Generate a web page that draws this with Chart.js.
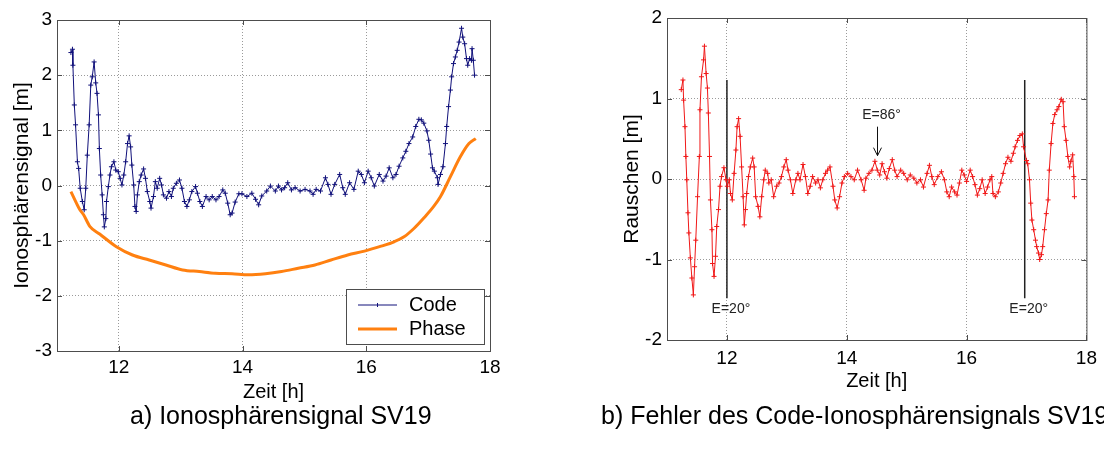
<!DOCTYPE html>
<html>
<head>
<meta charset="utf-8">
<script src="https://cdn.jsdelivr.net/npm/chart.js@4/dist/chart.umd.min.js"></script>
<style>
  body { margin: 0; background: #fff; width: 1104px; height: 455px; overflow: hidden; position: relative; font-family: "Liberation Sans", Arial, sans-serif; }
  #grafico1 { position: absolute; left: 0; top: 0; }
  #grafico2 { position: absolute; left: 610px; top: 0; }
  .caption { position: absolute; top: 400px; font-size: 25px; line-height: 30px; white-space: nowrap; color: #000; }
</style>
</head>
<body>
<canvas id="grafico1" width="520" height="410"></canvas>
<canvas id="grafico2" width="494" height="410"></canvas>
<div class="caption" style="left:130px">a) Ionosphärensignal SV19</div>
<div class="caption" style="left:601px">b) Fehler des Code-Ionosphärensignals SV19</div>
<script>
// Zeit in Stunden, Werte in Metern
const codeTime = [11.225, 11.25, 11.257, 11.28, 11.30, 11.33, 11.35, 11.375, 11.41, 11.44, 11.465, 11.49, 11.52, 11.546, 11.57, 11.60, 11.626, 11.647, 11.67, 11.685,
  11.706, 11.73, 11.75, 11.765, 11.79, 11.80, 11.83, 11.856, 11.88, 11.92, 11.95, 11.99, 12.02, 12.05, 12.08, 12.11, 12.14, 12.166, 12.19, 12.21,
  12.24, 12.26, 12.28, 12.30, 12.33, 12.36, 12.40, 12.43, 12.46, 12.50, 12.52, 12.56, 12.59, 12.62, 12.66, 12.69, 12.72, 12.77, 12.81, 12.85,
  12.88, 12.93, 12.98, 13.02, 13.06, 13.10, 13.14, 13.18, 13.24, 13.27, 13.31, 13.35, 13.41, 13.46, 13.51, 13.57, 13.62, 13.68, 13.72, 13.76,
  13.80, 13.83, 13.88, 13.94, 13.99, 14.07, 14.15, 14.21, 14.26, 14.31, 14.39, 14.45, 14.53, 14.58, 14.63, 14.68, 14.73, 14.79, 14.85, 14.93,
  15.01, 15.09, 15.14, 15.19, 15.26, 15.34, 15.38, 15.43, 15.49, 15.57, 15.62, 15.66, 15.73, 15.80, 15.87, 15.92, 15.97, 16.03, 16.08, 16.13,
  16.21, 16.27, 16.32, 16.37, 16.43, 16.48, 16.53, 16.59, 16.64, 16.69, 16.75, 16.80, 16.85, 16.89, 16.93, 16.98, 17.01, 17.04, 17.07, 17.10,
  17.15, 17.16, 17.20, 17.24, 17.28, 17.30, 17.33, 17.36, 17.38, 17.41, 17.44, 17.47, 17.50, 17.54, 17.56, 17.59, 17.62, 17.64, 17.67, 17.70,
  17.71, 17.73, 17.75];
const codeIono = [2.41, 2.47, 2.18, 1.46, 1.10, 0.43, 0.31, -0.05, -0.29, -0.44, -0.05, 0.55, 1.10, 1.82, 1.97, 2.24, 1.86, 1.67, 1.28, 0.67,
  0.19, -0.17, -0.53, -0.75, -0.60, -0.29, -0.02, 0.19, 0.34, 0.43, 0.28, 0.25, 0.13, 0.01, 0.19, 0.43, 0.76, 0.90, 0.70, 0.37,
  0.01, -0.38, -0.47, -0.17, 0.07, 0.19, 0.30, 0.13, -0.11, -0.29, -0.41, -0.20, 0.07, -0.05, 0.13, 0.01, -0.17, -0.23, -0.11, -0.20,
  -0.05, 0.04, 0.10, -0.05, -0.29, -0.38, -0.26, -0.11, -0.02, -0.14, -0.29, -0.38, -0.20, -0.26, -0.20, -0.26, -0.20, -0.08, -0.14, -0.32,
  -0.53, -0.50, -0.30, -0.15, -0.15, -0.20, -0.14, -0.25, -0.35, -0.19, -0.10, -0.01, -0.10, -0.01, -0.08, -0.04, 0.05, -0.08, -0.04, -0.10,
  -0.07, -0.10, -0.16, -0.07, -0.10, 0.14, 0.02, -0.16, 0.02, 0.20, -0.04, -0.16, 0.05, -0.07, 0.26, 0.20, 0.05, 0.26, 0.14, -0.01,
  0.20, 0.08, 0.17, 0.32, 0.14, 0.20, 0.35, 0.50, 0.62, 0.76, 0.88, 1.07, 1.20, 1.19, 1.13, 0.99, 0.82, 0.57, 0.32, 0.26,
  0.14, 0.02, 0.20, 0.34, 0.76, 1.07, 1.43, 1.73, 1.97, 2.21, 2.33, 2.45, 2.60, 2.85, 2.69, 2.57, 2.30, 2.18, 2.30, 2.27,
  2.48, 2.27, 2.00];

const phaseTime = [11.225, 11.37, 11.43, 11.53, 11.69, 11.96, 12.22, 12.49, 12.76, 13.03, 13.30, 13.56, 13.83, 14.10, 14.37, 14.63,
  14.90, 15.17, 15.43, 15.70, 15.97, 16.24, 16.45, 16.61, 16.77, 16.93, 17.09, 17.20, 17.36, 17.52, 17.66, 17.77];
const phaseIono = [-0.11, -0.44, -0.53, -0.74, -0.88, -1.11, -1.26, -1.35, -1.44, -1.53, -1.56, -1.59, -1.60, -1.62, -1.60, -1.56,
  -1.50, -1.44, -1.35, -1.26, -1.19, -1.10, -1.02, -0.93, -0.78, -0.59, -0.38, -0.20, 0.16, 0.52, 0.76, 0.85];

const noiseTime = [11.238, 11.266, 11.277, 11.30, 11.315, 11.33, 11.35, 11.365, 11.39, 11.415, 11.44, 11.46, 11.48, 11.51, 11.54, 11.55, 11.575, 11.61, 11.625, 11.653,
  11.675, 11.69, 11.71, 11.725, 11.75, 11.76, 11.785, 11.81, 11.83, 11.86, 11.885, 11.91, 11.95, 11.985, 12.007, 12.04, 12.06, 12.09, 12.12, 12.15,
  12.17, 12.195, 12.22, 12.245, 12.27, 12.29, 12.31, 12.33, 12.36, 12.39, 12.43, 12.455, 12.48, 12.52, 12.55, 12.58, 12.615, 12.64, 12.68, 12.70,
  12.74, 12.78, 12.83, 12.87, 12.91, 12.95, 12.99, 13.02, 13.06, 13.10, 13.15, 13.185, 13.22, 13.27, 13.31, 13.35, 13.39, 13.43, 13.48, 13.52,
  13.56, 13.60, 13.645, 13.68, 13.72, 13.77, 13.80, 13.84, 13.88, 13.92, 13.96, 14.015, 14.07, 14.125, 14.18, 14.24, 14.29, 14.32, 14.37, 14.42,
  14.47, 14.51, 14.55, 14.59, 14.63, 14.67, 14.71, 14.76, 14.80, 14.84, 14.90, 14.95, 15.01, 15.06, 15.12, 15.17, 15.23, 15.28, 15.34, 15.38,
  15.42, 15.46, 15.52, 15.58, 15.63, 15.67, 15.71, 15.75, 15.80, 15.84, 15.88, 15.92, 15.96, 16.00, 16.06, 16.10, 16.14, 16.18, 16.22, 16.26,
  16.31, 16.35, 16.39, 16.42, 16.44, 16.48, 16.53, 16.57, 16.61, 16.65, 16.69, 16.74, 16.78, 16.81, 16.85, 16.89, 16.93, 16.95, 17.00, 17.02,
  17.05, 17.07, 17.09, 17.12, 17.15, 17.17, 17.20, 17.22, 17.25, 17.27, 17.30, 17.33, 17.36, 17.38, 17.41, 17.44, 17.47, 17.51, 17.54, 17.58,
  17.61, 17.63, 17.66, 17.69, 17.72, 17.74, 17.77, 17.79, 17.80];
const noiseVal = [1.11, 1.23, 0.98, 0.65, 0.28, -0.01, -0.42, -0.67, -0.98, -1.23, -1.44, -1.09, -0.76, -0.22, 0.28, 0.86, 1.27, 1.48, 1.65, 1.31,
  1.13, 0.82, 0.28, -0.26, -0.63, -1.05, -1.21, -0.96, -0.59, -0.38, -0.09, 0.03, 0.14, -0.01, -0.09, -0.01, -0.18, -0.26, 0.07, 0.36,
  0.65, 0.75, 0.53, 0.15, -0.22, -0.57, -0.38, -0.18, 0.03, 0.15, 0.26, 0.15, -0.22, -0.34, -0.47, -0.22, -0.01, 0.11, 0.07, -0.05,
  -0.01, -0.22, -0.09, -0.05, 0.03, 0.15, 0.24, 0.11, -0.01, -0.18, -0.01, 0.07, -0.01, 0.18, 0.03, -0.18, -0.09, 0.03, -0.05, -0.01,
  -0.11, -0.01, 0.07, 0.11, 0.15, -0.09, -0.26, -0.36, -0.22, -0.05, 0.03, 0.07, 0.03, -0.01, 0.11, -0.01, -0.14, 0.01, 0.07, 0.11,
  0.22, 0.11, 0.05, 0.19, 0.09, 0.01, 0.13, 0.24, 0.11, 0.03, 0.11, 0.07, -0.01, 0.05, 0.01, -0.05, -0.01, -0.10, 0.07, 0.17,
  0.03, -0.07, 0.03, 0.09, -0.01, -0.16, -0.22, -0.10, -0.16, -0.20, -0.05, 0.11, 0.05, -0.03, 0.11, 0.03, -0.07, -0.20, -0.12, -0.01,
  -0.18, -0.10, -0.01, 0.03, -0.18, -0.22, -0.16, -0.05, 0.07, 0.19, 0.27, 0.22, 0.32, 0.40, 0.48, 0.54, 0.56, 0.40, 0.23, 0.19,
  -0.01, -0.30, -0.51, -0.63, -0.76, -0.84, -0.92, -1.00, -0.94, -0.84, -0.63, -0.43, -0.26, 0.11, 0.44, 0.69, 0.80, 0.86, 0.90, 0.99,
  0.96, 0.65, 0.48, 0.28, 0.15, 0.22, 0.30, 0.03, -0.22];

// Elevationsmarken (E=20°) und Pfeil bei E=86°
const elevTime = [12, 16.97];
const elevLabels = ['E=20°', 'E=20°'];
const elevTop = 1.23;
const elevBottom = -1.48;
const zenithTime = 14.5;
const zenithLabel = 'E=86°';
const zenithFrom = 0.65;
const zenithTo = 0.29;

const xTicks = [12, 14, 16, 18];
const yTicksLeft = [-3, -2, -1, 0, 1, 2, 3];
const yTicksRight = [-2, -1, 0, 1, 2];
const legendLabels = ['Code', 'Phase'];

const FONT = '"Liberation Sans", Arial, sans-serif';
Chart.defaults.font.family = FONT;
Chart.defaults.color = '#000';

function toPoints(xs, ys) {
    return xs.map((x, i) => ({ x: x, y: ys[i] }));
}

// Rahmen mit Ticks nach innen (wie MATLAB)
const framePlugin = {
    id: 'frame',
    afterDraw(chart) {
        const { ctx, chartArea: a, scales } = chart;
        ctx.save();
        ctx.strokeStyle = '#4d4d4d';
        ctx.lineWidth = 1;
        ctx.strokeRect(a.left + 0.5, a.top + 0.5, a.right - a.left, a.bottom - a.top);
        ctx.beginPath();
        scales.x.ticks.forEach(t => {
            const px = Math.round(scales.x.getPixelForValue(t.value)) + 0.5;
            ctx.moveTo(px, a.bottom); ctx.lineTo(px, a.bottom - 5);
            ctx.moveTo(px, a.top); ctx.lineTo(px, a.top + 5);
        });
        scales.y.ticks.forEach(t => {
            const py = Math.round(scales.y.getPixelForValue(t.value)) + 0.5;
            ctx.moveTo(a.left, py); ctx.lineTo(a.left + 5, py);
            ctx.moveTo(a.right, py); ctx.lineTo(a.right - 5, py);
        });
        ctx.stroke();
        ctx.restore();
    }
};

const legendPlugin = {
    id: 'boxLegend',
    afterDraw(chart) {
        const { ctx, chartArea: a } = chart;
        const w = 138, h = 55;
        const left = a.right - 6 - w, top = a.bottom - 7 - h;
        ctx.save();
        ctx.fillStyle = '#fff';
        ctx.fillRect(left, top, w, h);
        ctx.strokeStyle = '#4d4d4d';
        ctx.lineWidth = 1;
        ctx.strokeRect(left + 0.5, top + 0.5, w, h);
        ctx.font = '20px ' + FONT;
        ctx.textBaseline = 'middle';
        ctx.fillStyle = '#000';
        chart.data.datasets.forEach((ds, i) => {
            const y = top + 16 + i * 24;
            ctx.strokeStyle = ds.borderColor;
            ctx.lineWidth = ds.borderWidth;
            ctx.beginPath();
            ctx.moveTo(left + 12, y); ctx.lineTo(left + 51, y);
            ctx.stroke();
            if (ds.pointRadius > 0) {
                ctx.lineWidth = 1;
                ctx.beginPath();
                ctx.moveTo(left + 31.5, y - 2); ctx.lineTo(left + 31.5, y + 2);
                ctx.stroke();
            }
            ctx.fillText(legendLabels[i], left + 63, y);
        });
        ctx.restore();
    }
};

const notePlugin = {
    id: 'elevNotes',
    afterDatasetsDraw(chart) {
        const { ctx, scales } = chart;
        ctx.save();
        ctx.font = '14px ' + FONT;
        ctx.fillStyle = '#222';
        ctx.textAlign = 'center';
        ctx.textBaseline = 'middle';
        elevTime.forEach((t, i) => {
            ctx.fillText(elevLabels[i], scales.x.getPixelForValue(t) + 4, scales.y.getPixelForValue(elevBottom) + 11);
        });
        const ax = Math.round(scales.x.getPixelForValue(zenithTime)) + 0.5;
        const y0 = scales.y.getPixelForValue(zenithFrom);
        const y1 = scales.y.getPixelForValue(zenithTo);
        ctx.fillText(zenithLabel, ax + 4, y0 - 12);
        ctx.strokeStyle = '#111';
        ctx.lineWidth = 1;
        ctx.beginPath();
        ctx.moveTo(ax, y0); ctx.lineTo(ax, y1);
        ctx.moveTo(ax - 4, y1 - 8); ctx.lineTo(ax, y1); ctx.lineTo(ax + 4, y1 - 8);
        ctx.stroke();
        ctx.restore();
    }
};

function axisOptions(yMin, yMax, yTicks, yTitle, xTickPad, xTitlePad, bottomH) {
    return {
        x: {
            type: 'linear', min: 11, max: 18,
            afterBuildTicks: s => { s.ticks = xTicks.map(v => ({ value: v })); },
            afterFit: s => { s.height = bottomH; },
            ticks: { font: { size: 19 }, padding: xTickPad, maxRotation: 0, color: '#000' },
            grid: { color: '#9a9a9a', drawTicks: false },
            border: { display: false, dash: [1, 2] },
            title: { display: true, text: 'Zeit [h]', font: { size: 20 }, padding: { top: 0, bottom: xTitlePad }, color: '#000' }
        },
        y: {
            type: 'linear', min: yMin, max: yMax,
            afterBuildTicks: s => { s.ticks = yTicks.map(v => ({ value: v })); },
            afterFit: s => { s.width = 57; },
            ticks: { font: { size: 19 }, padding: 5, color: '#000' },
            grid: { color: '#9a9a9a', drawTicks: false },
            border: { display: false, dash: [1, 2] },
            title: { display: true, text: yTitle, font: { size: 21 }, padding: { top: 10, bottom: 0 }, color: '#000' }
        }
    };
}

new Chart(document.getElementById('grafico1').getContext('2d'), {
    type: 'line',
    data: {
        datasets: [{
            label: 'Code',
            data: toPoints(codeTime, codeIono),
            borderColor: '#10107a',
            borderWidth: 1,
            pointStyle: 'cross',
            pointRadius: 2.5,
            pointBorderWidth: 1,
            pointBorderColor: '#10107a',
            tension: 0
        }, {
            label: 'Phase',
            data: toPoints(phaseTime, phaseIono),
            borderColor: '#ff8010',
            borderWidth: 3,
            pointRadius: 0,
            cubicInterpolationMode: 'monotone'
        }]
    },
    options: {
        responsive: false,
        animation: false,
        layout: { padding: { top: 20, right: 30, left: 0, bottom: 0 } },
        plugins: { legend: { display: false }, tooltip: { enabled: false } },
        scales: axisOptions(-3, 3, yTicksLeft, 'Ionosphärensignal [m]', 5, 6, 59)
    },
    plugins: [framePlugin, legendPlugin]
});

new Chart(document.getElementById('grafico2').getContext('2d'), {
    type: 'line',
    data: {
        datasets: [{
            label: 'Rauschen',
            data: toPoints(noiseTime, noiseVal),
            borderColor: '#f01818',
            borderWidth: 1,
            pointStyle: 'cross',
            pointRadius: 2.5,
            pointBorderWidth: 1,
            pointBorderColor: '#f01818',
            tension: 0
        }].concat(elevTime.map(t => ({
            data: [{ x: t, y: elevTop }, { x: t, y: elevBottom }],
            borderColor: '#222',
            borderWidth: 1.5,
            pointRadius: 0
        })))
    },
    options: {
        responsive: false,
        animation: false,
        layout: { padding: { top: 18, right: 15, left: 0, bottom: 0 } },
        plugins: { legend: { display: false }, tooltip: { enabled: false } },
        scales: axisOptions(-2, 2, yTicksRight, 'Rauschen [m]', 7, 17, 70)
    },
    plugins: [framePlugin, notePlugin]
});
</script>
</body>
</html>
